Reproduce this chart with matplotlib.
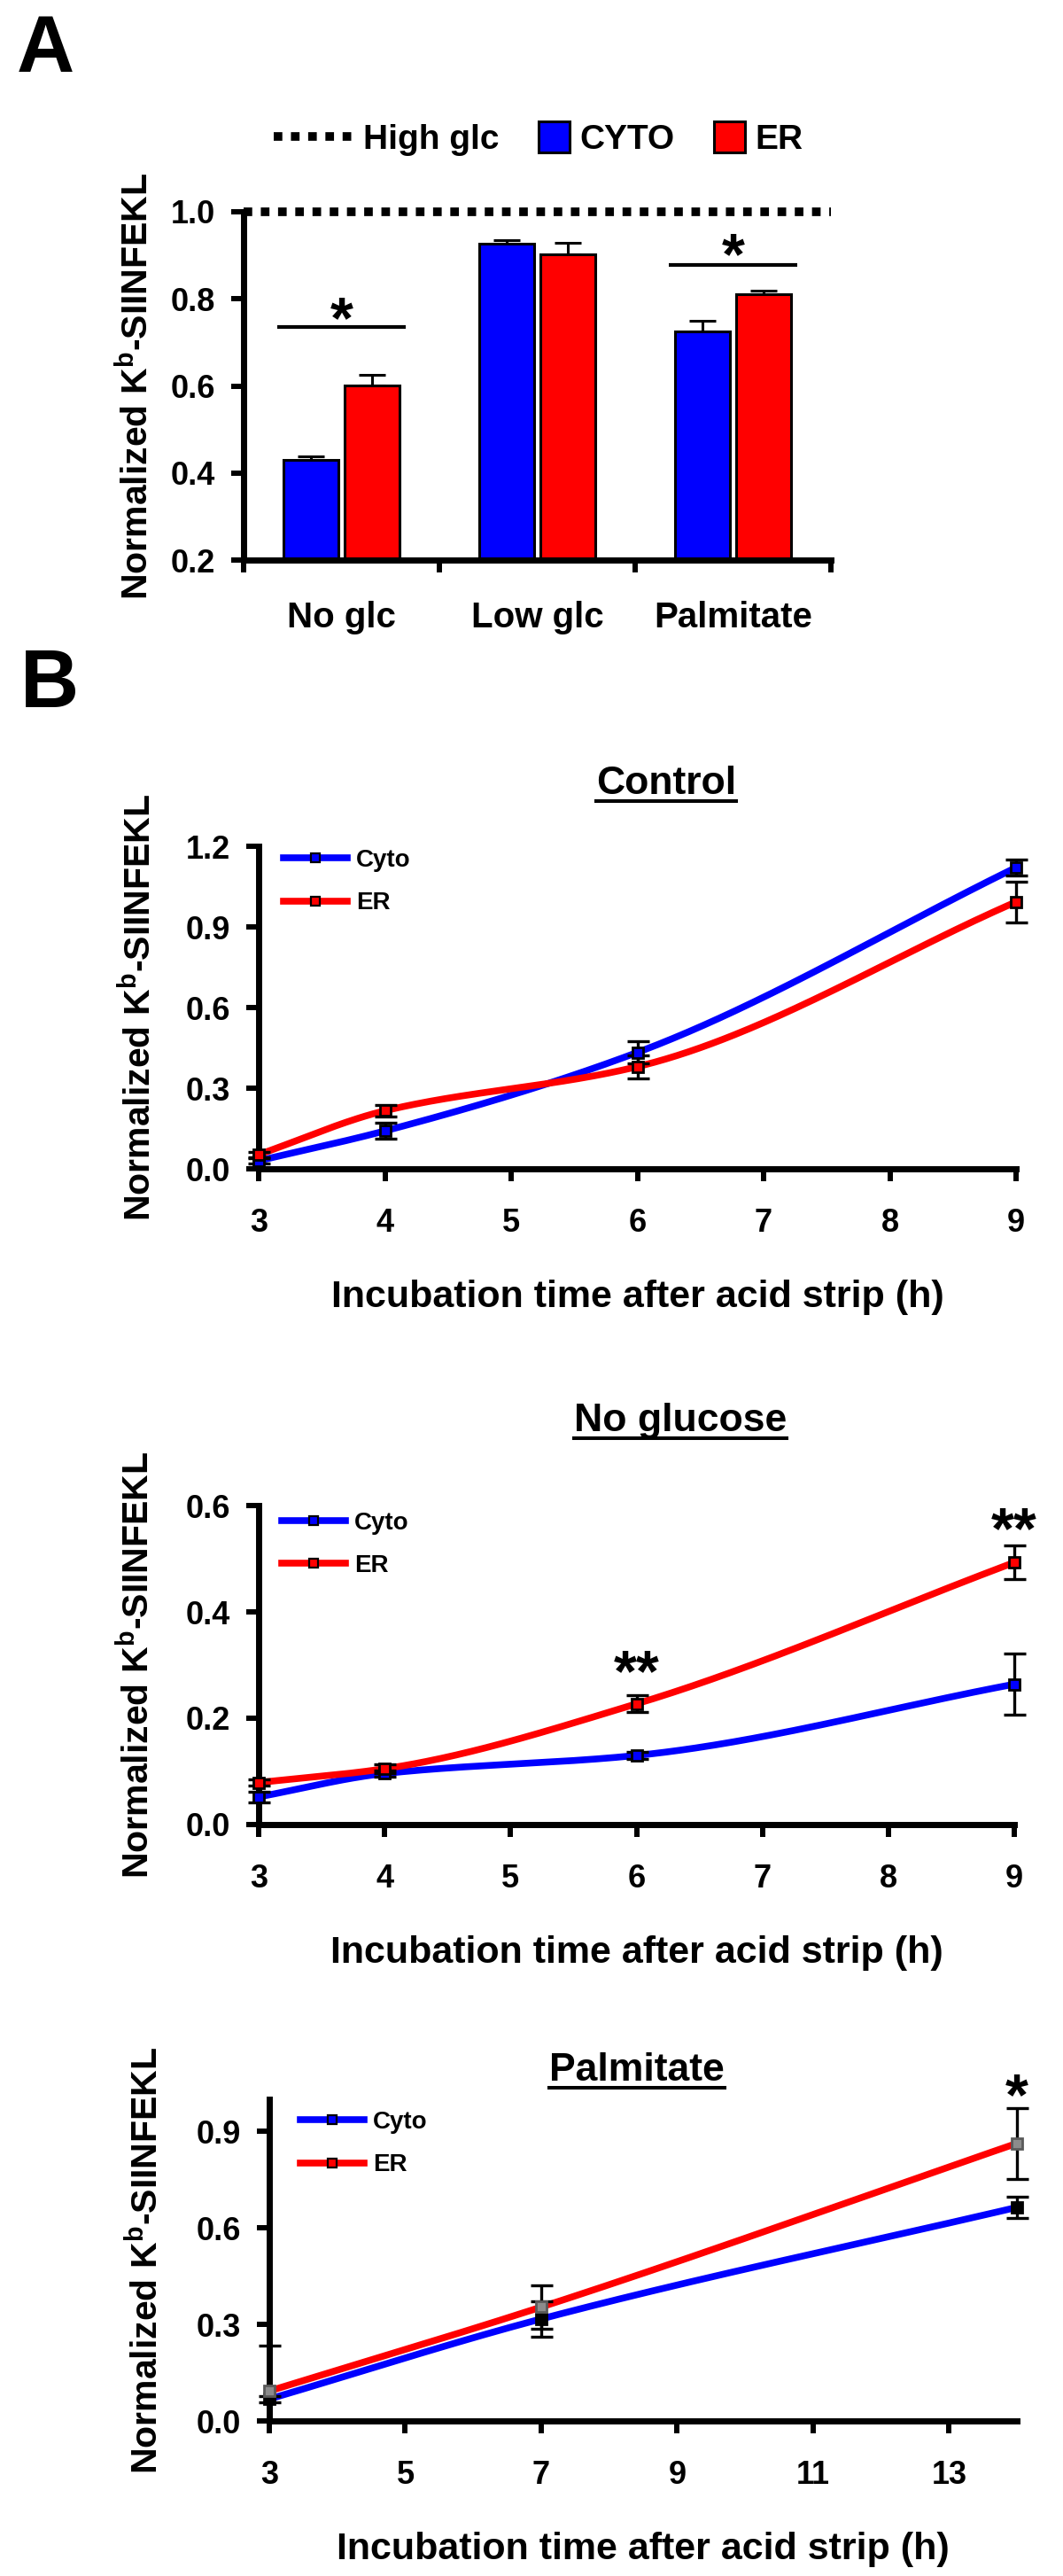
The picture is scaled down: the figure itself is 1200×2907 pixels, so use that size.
import numpy as np
import matplotlib
matplotlib.use("Agg")
import matplotlib.pyplot as plt
from matplotlib.lines import Line2D
from matplotlib.patches import Rectangle, Patch
from matplotlib.legend_handler import HandlerBase
from matplotlib.transforms import ScaledTranslation

# ---------------- data ----------------
bar_categories = ["No glc", "Low glc", "Palmitate"]
bar_cyto = [0.431, 0.926, 0.726]
bar_cyto_err = [0.008, 0.008, 0.024]
bar_er = [0.601, 0.903, 0.811]
bar_er_err = [0.025, 0.025, 0.007]
high_glc_level = 1.0
bar_sig_y = [0.736, 0.877]          # No glc, Palmitate significance lines
bar_sig_star = [0.79, 0.937]

ctrl_time = [3, 4, 6, 9]
ctrl_cyto = [0.030, 0.141, 0.433, 1.121]
ctrl_cyto_err = [0.010, 0.030, 0.042, 0.030]
ctrl_er = [0.053, 0.216, 0.380, 0.993]
ctrl_er_err = [0.010, 0.022, 0.043, 0.075]

noglc_time = [3, 4, 6, 9]
noglc_cyto = [0.052, 0.096, 0.130, 0.264]
noglc_cyto_err = [0.010, 0.006, 0.006, 0.058]
noglc_er = [0.079, 0.105, 0.227, 0.493]
noglc_er_err = [0.006, 0.008, 0.016, 0.032]
noglc_stars_x = [6, 9]
noglc_stars_y = [0.316, 0.585]

palm_time = [3, 7, 14]
palm_cyto = [0.068, 0.317, 0.664]
palm_cyto_err = [0.010, 0.055, 0.033]
palm_er = [0.093, 0.354, 0.863]
palm_er_err = [0.142, 0.068, 0.110]
palm_star_x = [14]
palm_star_y = [1.06]

# ---------------- style ----------------
plt.rcParams.update({
    "font.family": ["Liberation Sans", "DejaVu Sans"],
    "font.weight": "bold",
    "axes.labelweight": "bold",
    "mathtext.fontset": "custom",
    "mathtext.rm": "Liberation Sans",
    "mathtext.bf": "Liberation Sans:bold",
})

W, H = 1200, 2907
fig = plt.figure(figsize=(W / 100, H / 100), dpi=100)
BLUE, RED = "#0000FF", "#FF0000"
YLAB = r"Normalized K$^{\mathrm{b}}$-SIINFEKL"
XLAB = "Incubation time after acid strip (h)"


def axes_px(left, top, right, bottom):
    return fig.add_axes([left / W, 1 - bottom / H, (right - left) / W, (bottom - top) / H])


def style(ax):
    for s in ["top", "right"]:
        ax.spines[s].set_visible(False)
    for s in ["left", "bottom"]:
        ax.spines[s].set_linewidth(5)
    ax.tick_params(axis="both", direction="out", length=10, width=4.3, labelsize=26)
    ax.tick_params(axis="y", pad=13)
    ax.tick_params(axis="x", pad=22)


def pchip(x, y, n=200):
    x = np.asarray(x, float)
    y = np.asarray(y, float)
    h = np.diff(x)
    d = np.diff(y) / h
    m = np.zeros_like(y)
    m[0], m[-1] = d[0], d[-1]
    for k in range(1, len(x) - 1):
        if d[k - 1] * d[k] > 0:
            w1 = 2 * h[k] + h[k - 1]
            w2 = h[k] + 2 * h[k - 1]
            m[k] = (w1 + w2) / (w1 / d[k - 1] + w2 / d[k])
    xs = np.linspace(x[0], x[-1], n)
    idx = np.clip(np.searchsorted(x, xs) - 1, 0, len(x) - 2)
    t = (xs - x[idx]) / h[idx]
    h00 = 2 * t**3 - 3 * t**2 + 1
    h10 = t**3 - 2 * t**2 + t
    h01 = -2 * t**3 + 3 * t**2
    h11 = t**3 - t**2
    ys = h00 * y[idx] + h10 * h[idx] * m[idx] + h01 * y[idx + 1] + h11 * h[idx] * m[idx + 1]
    return xs, ys


def star(ax, x, y, s, fs):
    off = ScaledTranslation(0, -0.58 * fs / 72, fig.dpi_scale_trans)
    ax.text(x, y, s, ha="center", va="baseline", fontsize=fs, fontweight="bold",
            transform=ax.transData + off, clip_on=False)


def series(ax, t, y, e, line_color, mfc, mec):
    xs, ys = pchip(t, y)
    ax.plot(xs, ys, color=line_color, lw=5.5, zorder=2, solid_capstyle="butt")
    lo = np.minimum(e, y)
    ax.errorbar(t, y, yerr=[lo, e], fmt="none", ecolor="k", elinewidth=2.4,
                capsize=9, capthick=2.4, zorder=3, clip_on=False)
    ax.plot(t, y, ls="none", marker="s", ms=9, mfc=mfc, mec=mec, mew=2,
            zorder=4, clip_on=False)


def line_legend(ax, left_px, top_px):
    hs = [Line2D([], [], color=BLUE, lw=5.5, marker="s", ms=6.5, mfc=BLUE, mec="k", mew=1.6),
          Line2D([], [], color=RED, lw=5.5, marker="s", ms=6.5, mfc=RED, mec="k", mew=1.6)]
    ax.legend(hs, ["Cyto", "ER"], loc="upper left", bbox_to_anchor=(left_px / W, 1 - top_px / H),
              bbox_transform=fig.transFigure, frameon=False, fontsize=20, handlelength=2.6,
              handletextpad=0.36, labelspacing=0.8, borderpad=0, borderaxespad=0, numpoints=1)


def labels(ax, ylab_base_px, ax_left_px, ax_w_px, ax_h_px):
    ax.set_ylabel(YLAB, fontsize=29.5, fontweight="bold", va="baseline")
    ax.yaxis.set_label_coords((ylab_base_px - ax_left_px) / ax_w_px, 0.5)
    if ax_h_px:
        ax.set_xlabel(XLAB, fontsize=31, fontweight="bold")
        ax.xaxis.set_label_coords(0.5, -125 / ax_h_px)


# ---------------- Panel A ----------------
axA = axes_px(275, 239, 938, 632)
style(axA)
xc = np.arange(len(bar_categories))
bw, off = 0.28, 0.156
axA.bar(xc - off, bar_cyto, bw, color=BLUE, edgecolor="k", lw=2.2, zorder=2)
axA.bar(xc + off, bar_er, bw, color=RED, edgecolor="k", lw=2.2, zorder=2)
axA.errorbar(xc - off, bar_cyto, yerr=[np.zeros(3), bar_cyto_err], fmt="none", ecolor="k",
             elinewidth=2.2, capsize=11, capthick=2.2, zorder=1)
axA.errorbar(xc + off, bar_er, yerr=[np.zeros(3), bar_er_err], fmt="none", ecolor="k",
             elinewidth=2.2, capsize=11, capthick=2.2, zorder=1)
axA.axhline(high_glc_level, color="k", lw=7, linestyle=(0, (1, 1)), clip_on=False,
            zorder=5, dash_capstyle="butt")
axA.set_xlim(-0.5, 2.5)
axA.set_ylim(0.2, 1.0)
axA.set_yticks([0.2, 0.4, 0.6, 0.8, 1.0])
axA.set_yticklabels(["0.2", "0.4", "0.6", "0.8", "1.0"])
axA.set_xticks([-0.5, 0.5, 1.5, 2.5])
axA.set_xticklabels([])
axA.set_xticks(xc, minor=True)
axA.set_xticklabels(bar_categories, minor=True, fontsize=29)
axA.tick_params(axis="x", which="minor", length=0, pad=33)
for i, (yl, ys) in zip([0, 2], zip(bar_sig_y, bar_sig_star)):
    axA.plot([i - 0.33, i + 0.33], [yl, yl], color="k", lw=3, solid_capstyle="butt")
    star(axA, i, ys, "*", 48)
labels(axA, 167, 275, 663, None)


class DotHandler(HandlerBase):
    def create_artists(self, legend, orig_handle, xdescent, ydescent, width, height, fontsize, trans):
        y = height / 2 - ydescent
        ln = Line2D([-xdescent + width - 64, -xdescent + width], [y, y], color="k", lw=7,
                    linestyle=(0, (1, 1)), dash_capstyle="butt")
        ln.set_transform(trans)
        return [ln]


class SqHandler(HandlerBase):
    def create_artists(self, legend, orig_handle, xdescent, ydescent, width, height, fontsize, trans):
        s = 25
        r = Rectangle((-xdescent + width - s, height / 2 - ydescent - s / 2), s, s,
                      facecolor=orig_handle.get_facecolor(), edgecolor="k", lw=2.2)
        r.set_transform(trans)
        return [r]


h_dot = Line2D([], [], color="k")
h_cy = Patch(facecolor=BLUE)
h_er = Patch(facecolor=RED)
axA.legend([h_dot, h_cy, h_er], ["High glc", "CYTO", "ER"],
           handler_map={h_dot: DotHandler(), h_cy: SqHandler(), h_er: SqHandler()},
           ncol=3, loc="center left", bbox_to_anchor=(363 / W, 1 - 158 / H),
           bbox_transform=fig.transFigure, frameon=False, fontsize=28, handlelength=0.9,
           handletextpad=0.31, columnspacing=1.13, borderpad=0, borderaxespad=0)

fig.text(19 / W, 1 - 15 / H, "A", fontsize=65, fontweight="bold", ha="left", va="top")
fig.text(23 / W, 1 - 731 / H, "B", fontsize=66, fontweight="bold", ha="left", va="top")

# ---------------- Control ----------------
axC = axes_px(292, 955, 1147, 1319)
style(axC)
series(axC, ctrl_time, ctrl_cyto, ctrl_cyto_err, BLUE, BLUE, "k")
series(axC, ctrl_time, ctrl_er, ctrl_er_err, RED, RED, "k")
axC.set_xlim(3, 9)
axC.set_ylim(0, 1.2)
axC.set_xticks(range(3, 10))
axC.set_yticks([0, 0.3, 0.6, 0.9, 1.2])
axC.set_yticklabels(["0.0", "0.3", "0.6", "0.9", "1.2"])
line_legend(axC, 320, 958)
labels(axC, 170, 292, 855, 364)

# ---------------- No glucose ----------------
axN = axes_px(292, 1699, 1145, 2059)
style(axN)
series(axN, noglc_time, noglc_cyto, noglc_cyto_err, BLUE, BLUE, "k")
series(axN, noglc_time, noglc_er, noglc_er_err, RED, RED, "k")
axN.set_xlim(3, 9)
axN.set_ylim(0, 0.6)
axN.set_xticks(range(3, 10))
axN.set_yticks([0, 0.2, 0.4, 0.6])
axN.set_yticklabels(["0.0", "0.2", "0.4", "0.6"])
for sx, sy in zip(noglc_stars_x, noglc_stars_y):
    star(axN, sx, sy, "**", 48)
line_legend(axN, 318, 1706)
labels(axN, 168, 292, 853, 360)

# ---------------- Palmitate ----------------
axP = axes_px(304, 2369, 1148, 2732)
style(axP)
series(axP, palm_time, palm_cyto, palm_cyto_err, BLUE, "k", "k")
series(axP, palm_time, palm_er, palm_er_err, RED, "#8c8c8c", "#5a5a5a")
axP.set_xlim(3, 14)
axP.set_ylim(0, 1.0)
axP.set_xticks([3, 5, 7, 9, 11, 13])
axP.set_yticks([0, 0.3, 0.6, 0.9])
axP.set_yticklabels(["0.0", "0.3", "0.6", "0.9"])
for sx, sy in zip(palm_star_x, palm_star_y):
    star(axP, sx, sy, "*", 48)
line_legend(axP, 339, 2382)
labels(axP, 178, 304, 844, 363)

# ---------------- underlined titles ----------------
titles = [("Control", 752, 896), ("No glucose", 768, 1615), ("Palmitate", 719, 2348)]
tobjs = [fig.text(x / W, 1 - yb / H, s, ha="center", va="baseline", fontsize=32, fontweight="bold")
         for s, x, yb in titles]
fig.canvas.draw()
r = fig.canvas.get_renderer()
for t in tobjs:
    bb = t.get_window_extent(r)
    y = bb.y0 + 1
    fig.add_artist(Line2D([bb.x0 / W, bb.x1 / W], [y / H, y / H], color="k", lw=2.9,
                          transform=fig.transFigure))

fig.savefig("out.png", dpi=100)
